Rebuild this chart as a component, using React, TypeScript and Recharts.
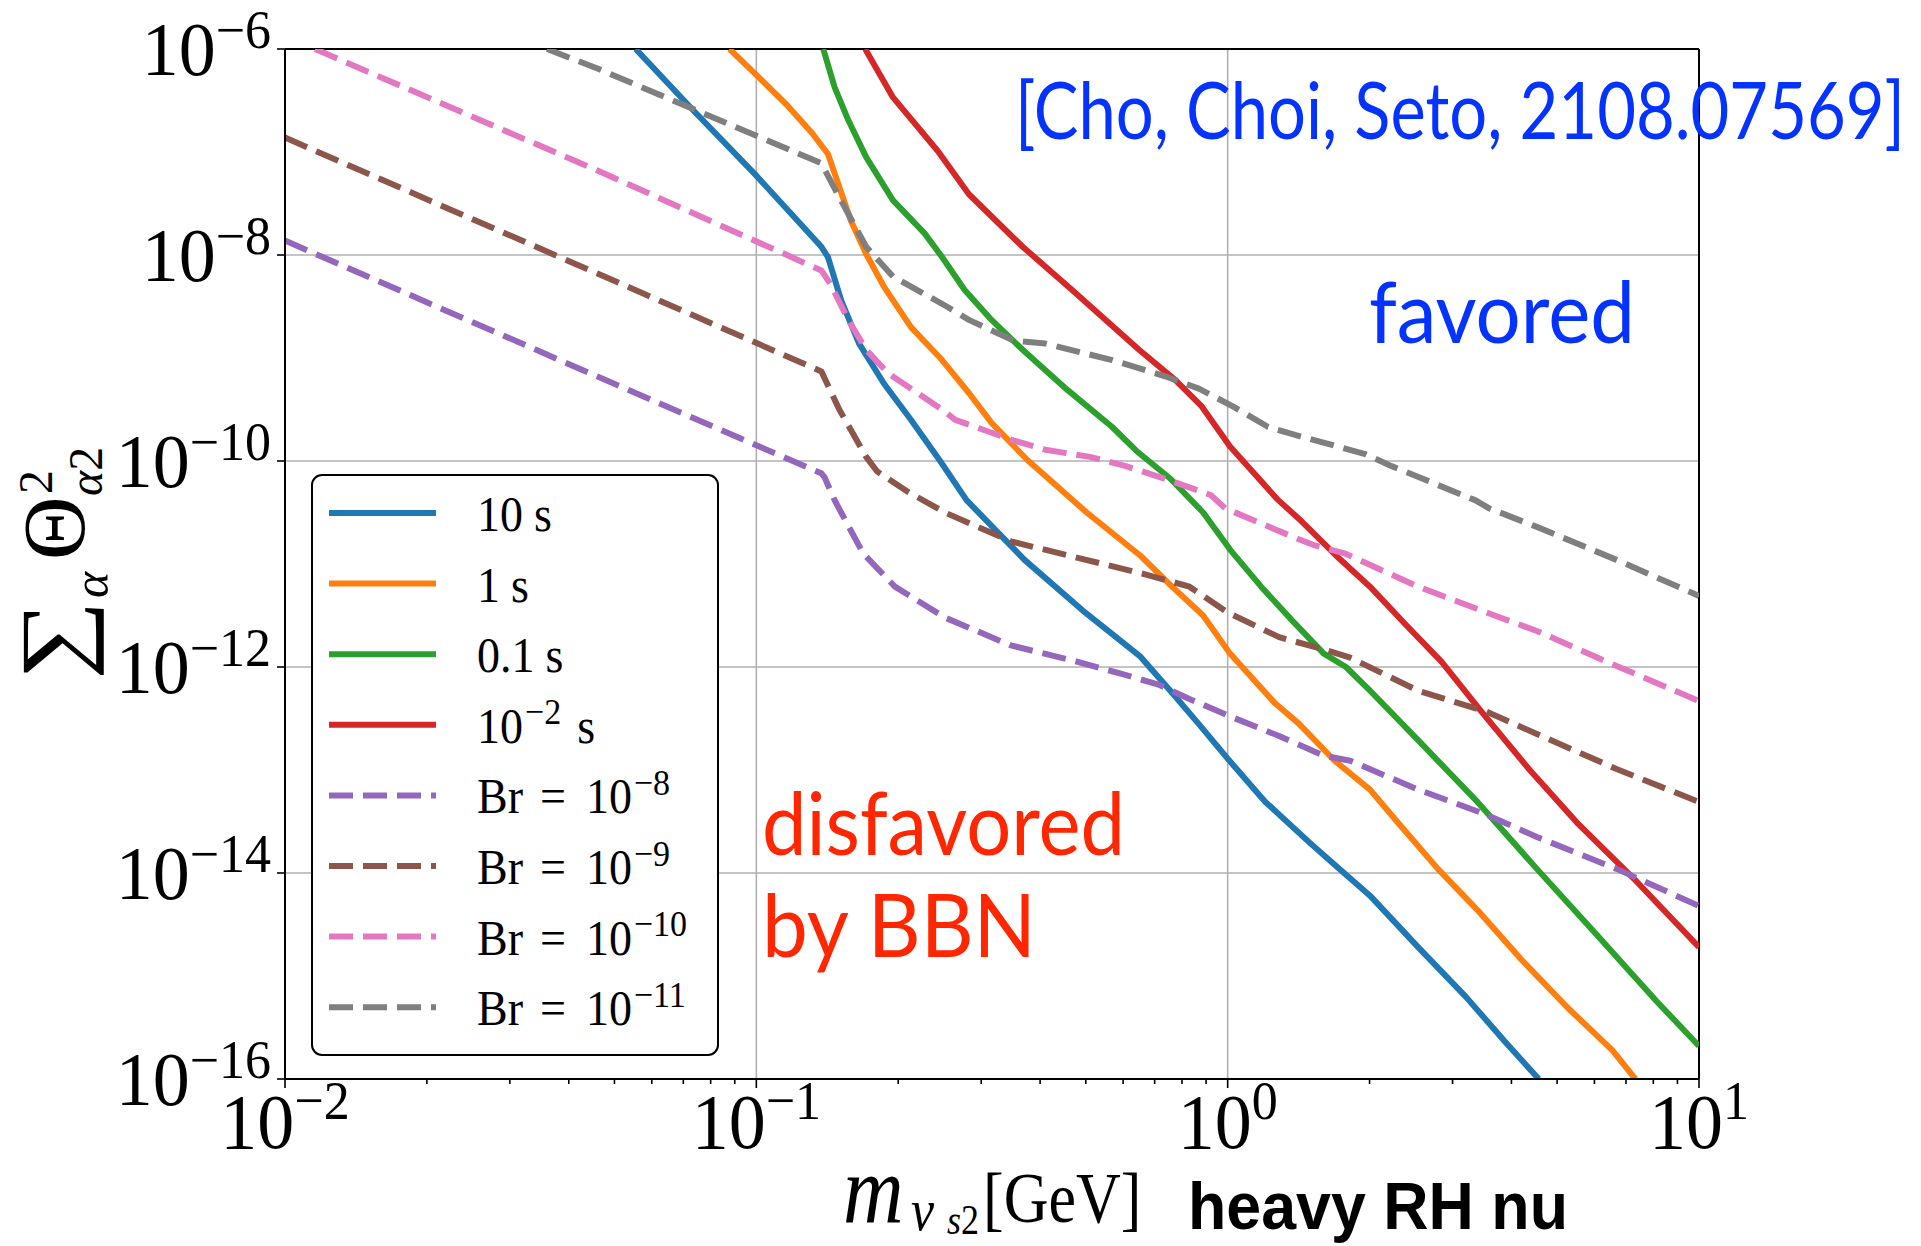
import React from 'react';
import { CartesianGrid, Line, LineChart, ReferenceLine, XAxis, YAxis } from 'recharts';

// values, stored as log10(m / GeV) and log10(sum Theta^2)
const tau10LogM = [-1.256, -1.133, -1.0, -0.862, -0.848, -0.82, -0.782, -0.729, -0.672, -0.61, -0.554, -0.431, -0.308, -0.185, -0.118, -0.062, 0, 0.08, 0.175, 0.227, 0.302, 0.404, 0.505, 0.589, 0.66];
const tau10LogT = [-6.0, -6.6, -7.23, -7.92, -8.02, -8.44, -8.86, -9.25, -9.6, -10.0, -10.38, -10.96, -11.45, -11.9, -12.25, -12.55, -12.89, -13.31, -13.71, -13.92, -14.22, -14.72, -15.2, -15.64, -16.0];

const tau1LogM = [-1.057, -1.005, -0.938, -0.881, -0.848, -0.824, -0.8, -0.767, -0.729, -0.672, -0.606, -0.549, -0.501, -0.425, -0.299, -0.185, -0.118, -0.052, 0.005, 0.1, 0.151, 0.227, 0.302, 0.361, 0.446, 0.53, 0.623, 0.724, 0.816, 0.865];
const tau1LogT = [-6.0, -6.23, -6.53, -6.82, -7.02, -7.34, -7.66, -7.99, -8.31, -8.7, -9.02, -9.34, -9.63, -9.99, -10.5, -10.92, -11.22, -11.5, -11.87, -12.35, -12.55, -12.91, -13.19, -13.51, -13.96, -14.36, -14.84, -15.32, -15.72, -16.0];

const tau01LogM = [-0.858, -0.834, -0.805, -0.767, -0.71, -0.643, -0.606, -0.558, -0.501, -0.435, -0.34, -0.245, -0.194, -0.122, -0.052, 0.005, 0.071, 0.137, 0.204, 0.251, 0.302, 0.404, 0.53, 0.656, 0.783, 0.909, 1.0];
const tau01LogT = [-6.0, -6.37, -6.69, -7.05, -7.47, -7.79, -8.02, -8.34, -8.63, -8.92, -9.31, -9.67, -9.9, -10.17, -10.5, -10.86, -11.22, -11.55, -11.87, -12.0, -12.23, -12.71, -13.31, -13.96, -14.6, -15.24, -15.68];

const tau001LogM = [-0.769, -0.71, -0.615, -0.549, -0.435, -0.33, -0.188, -0.112, -0.055, 0.005, 0.105, 0.151, 0.235, 0.302, 0.378, 0.454, 0.538, 0.639, 0.741, 0.867, 1.0];
const tau001LogT = [-6.0, -6.47, -6.99, -7.41, -7.92, -8.34, -8.92, -9.21, -9.47, -9.86, -10.37, -10.56, -10.94, -11.22, -11.59, -11.95, -12.43, -12.99, -13.51, -14.08, -14.72];

const br8LogM = [-2.0, -1.337, -0.862, -0.855, -0.834, -0.82, -0.773, -0.706, -0.6, -0.46, -0.318, -0.223, -0.147, -0.081, 0, 0.109, 0.204, 0.26, 0.404, 0.547, 0.656, 0.825, 1.0];
const br8LogT = [-7.86, -9.18, -10.12, -10.16, -10.38, -10.5, -10.9, -11.22, -11.52, -11.79, -11.95, -12.07, -12.17, -12.31, -12.47, -12.67, -12.86, -12.91, -13.19, -13.43, -13.65, -13.96, -14.32];

const br9LogM = [-2.0, -1.337, -0.862, -0.824, -0.767, -0.744, -0.678, -0.6, -0.46, -0.318, -0.175, -0.081, 0, 0.109, 0.204, 0.26, 0.404, 0.547, 0.656, 0.825, 1.0];
const br9LogT = [-6.86, -8.18, -9.13, -9.5, -9.96, -10.1, -10.3, -10.5, -10.78, -10.94, -11.1, -11.22, -11.47, -11.71, -11.83, -11.91, -12.23, -12.43, -12.65, -12.99, -13.31];

const br10LogM = [-1.936, -1.337, -0.862, -0.843, -0.805, -0.767, -0.72, -0.606, -0.578, -0.455, -0.387, -0.292, -0.216, -0.128, -0.036, -0.005, 0.151, 0.185, 0.25, 0.404, 0.572, 0.656, 0.825, 1.0];
const br10LogT = [-6.0, -7.18, -8.15, -8.28, -8.63, -8.92, -9.15, -9.5, -9.6, -9.8, -9.89, -9.96, -10.05, -10.18, -10.33, -10.46, -10.76, -10.82, -10.9, -11.22, -11.51, -11.65, -11.99, -12.33];

const br11LogM = [-1.444, -1.337, -0.862, -0.824, -0.767, -0.71, -0.596, -0.549, -0.454, -0.387, -0.245, -0.131, -0.06, 0.011, 0.086, 0.154, 0.29, 0.348, 0.525, 0.555, 0.656, 0.825, 1.0];
const br11LogT = [-6.0, -6.19, -7.11, -7.44, -7.92, -8.21, -8.5, -8.63, -8.83, -8.86, -9.02, -9.18, -9.3, -9.47, -9.67, -9.76, -9.93, -10.05, -10.38, -10.46, -10.64, -10.96, -11.31];

const xMajorTicks = [0.01, 0.1, 1, 10];
const xMinorTicks = [0.02, 0.03, 0.04, 0.05, 0.06, 0.07, 0.08, 0.09, 0.2, 0.3, 0.4, 0.5, 0.6, 0.7, 0.8, 0.9, 2, 3, 4, 5, 6, 7, 8, 9];
const yMajorTicks = [1e-16, 1e-14, 1e-12, 1e-10, 1e-8, 1e-6];

const SERIF = '"Liberation Serif", "DejaVu Serif", serif';
const SANS = 'Lato, "Open Sans", sans-serif';
const BLUE_TXT = '#0433ff';
const RED_TXT = '#ff2600';
const LW = 6;
const DASH = '24 10';

const toPoints = (lm: number[], lt: number[]) =>
  lm.map((v, i) => ({ m: 10 ** v, theta: 10 ** lt[i] }));

// legend text: either a lifetime ("value [exp] s") or a branching ratio ("Br = 10^exp")
type Series = {
  key: string;
  color: string;
  dashed: boolean;
  kind: 'tau' | 'br';
  value: string;
  exp?: string;
  data: { m: number; theta: number }[];
};

const series: Series[] = [
  { key: 't10', color: '#1f77b4', dashed: false, kind: 'tau', value: '10', data: toPoints(tau10LogM, tau10LogT) },
  { key: 't1', color: '#ff7f0e', dashed: false, kind: 'tau', value: '1', data: toPoints(tau1LogM, tau1LogT) },
  { key: 't01', color: '#2ca02c', dashed: false, kind: 'tau', value: '0.1', data: toPoints(tau01LogM, tau01LogT) },
  { key: 't001', color: '#d62728', dashed: false, kind: 'tau', value: '10', exp: '−2', data: toPoints(tau001LogM, tau001LogT) },
  { key: 'b8', color: '#9467bd', dashed: true, kind: 'br', value: '10', exp: '−8', data: toPoints(br8LogM, br8LogT) },
  { key: 'b9', color: '#8c564b', dashed: true, kind: 'br', value: '10', exp: '−9', data: toPoints(br9LogM, br9LogT) },
  { key: 'b10', color: '#e377c2', dashed: true, kind: 'br', value: '10', exp: '−10', data: toPoints(br10LogM, br10LogT) },
  { key: 'b11', color: '#7f7f7f', dashed: true, kind: 'br', value: '10', exp: '−11', data: toPoints(br11LogM, br11LogT) },
];

const expLabel = (v: number) => {
  const e = Math.round(Math.log10(v));
  return e < 0 ? `−${-e}` : `${e}`;
};

function XTick(props: any) {
  const { x, y, payload } = props;
  const lv = Math.log10(payload.value);
  const major = Math.abs(lv - Math.round(lv)) < 1e-6;
  return (
    <g>
      <line x1={x} x2={x} y1={y} y2={y + (major ? 9 : 5)} stroke="#000" strokeWidth={1.6} />
      {major && (
        <text
          transform={`translate(${x},${y + 69}) scale(1,1.06)`}
          textAnchor="middle"
          fontFamily={SERIF}
          fontSize={74}
          fill="#000"
        >
          10
          <tspan fontSize={52} dy={-27}>
            {expLabel(payload.value)}
          </tspan>
        </text>
      )}
    </g>
  );
}

function YTick(props: any) {
  const { x, y, payload } = props;
  return (
    <text
      transform={`translate(${x},${y + 26}) scale(1,1.04)`}
      textAnchor="end"
      fontFamily={SERIF}
      fontSize={74}
      fill="#000"
    >
      10
      <tspan fontSize={52} dy={-26}>
        {expLabel(payload.value)}
      </tspan>
    </text>
  );
}

function LegendLabel({ s, y }: { s: Series; y: number }) {
  if (s.kind === 'tau') {
    return (
      <text transform={`translate(477,${y}) scale(1,1.08)`} fontFamily={SERIF} fontSize={46} fill="#000">
        {s.value}
        {s.exp && (
          <tspan fontSize={34} dy={-17} dx={2}>
            {s.exp}
          </tspan>
        )}
        <tspan dx={s.exp ? 16 : 11} dy={s.exp ? 17 : 0}>
          s
        </tspan>
      </text>
    );
  }
  return (
    <text transform={`translate(477,${y}) scale(1,1.08)`} fontFamily={SERIF} fontSize={46} fill="#000">
      Br
      <tspan dx={17}>=</tspan>
      <tspan dx={20}>{s.value}</tspan>
      <tspan fontSize={34} dy={-17} dx={2}>
        {s.exp}
      </tspan>
    </text>
  );
}

function LegendBox() {
  const left = 312;
  const top = 475;
  const row0 = 513;
  const step = 70.6;
  return (
    <g>
      <rect x={left} y={top} width={406} height={580} rx={10} fill="#fff" stroke="#000" strokeWidth={2} />
      {series.map((s, i) => {
        const cy = row0 + i * step;
        return (
          <g key={s.key}>
            <line
              x1={329}
              x2={436}
              y1={cy}
              y2={cy}
              stroke={s.color}
              strokeWidth={LW}
              strokeDasharray={s.dashed ? DASH : undefined}
            />
            <LegendLabel s={s} y={cy + 18} />
          </g>
        );
      })}
    </g>
  );
}

function Overlay() {
  return (
    <svg width={1921} height={1246} style={{ position: 'absolute', left: 0, top: 0, pointerEvents: 'none' }}>
      <LegendBox />
      {/* y axis label, written bottom to top */}
      <text transform="translate(84,680) rotate(-90) scale(1.22,1)" fontFamily={SERIF} fontSize={92} fill="#000">
        ∑
      </text>
      <text transform="translate(84,678) rotate(-90)" fontFamily={SERIF} fill="#000">
        <tspan x={80} y={24} fontSize={50} fontStyle="italic">α</tspan>
        <tspan x={118} y={0} fontSize={88}>Θ</tspan>
        <tspan x={184} y={-32} fontSize={48}>2</tspan>
        <tspan x={182} y={18} fontSize={48} fontStyle="italic">α</tspan>
        <tspan y={18} fontSize={48}>2</tspan>
      </text>
      {/* x axis label */}
      <g transform="translate(843,1222) scale(1,1.15)">
        <text fontFamily={SERIF} fill="#000">
          <tspan x={0} y={0} fontSize={84} fontStyle="italic">m</tspan>
          <tspan x={68} y={7} fontSize={52} fontStyle="italic">ν</tspan>
          <tspan x={104} y={10} fontSize={36} fontStyle="italic">s</tspan>
          <tspan y={10} fontSize={36}>2</tspan>
          <tspan x={140} y={0} fontSize={62}>[GeV]</tspan>
        </text>
      </g>
      <text
        x={1188}
        y={1229}
        fontFamily='"Liberation Sans", Arial, sans-serif'
        fontWeight="bold"
        fontSize={66}
        fill="#000"
        textLength={380}
        lengthAdjust="spacingAndGlyphs"
      >
        heavy RH nu
      </text>
      {/* annotations */}
      <text x={1015} y={139} fontFamily={SANS} fontSize={80} fill={BLUE_TXT} textLength={890} lengthAdjust="spacingAndGlyphs">
        [Cho, Choi, Seto, 2108.07569]
      </text>
      <text x={1369} y={343} fontFamily={SANS} fontSize={86} fill={BLUE_TXT} textLength={266} lengthAdjust="spacingAndGlyphs">
        favored
      </text>
      <text x={762} y={855} fontFamily={SANS} fontSize={88} fill={RED_TXT} textLength={363} lengthAdjust="spacingAndGlyphs">
        disfavored
      </text>
      <text x={762} y={957} fontFamily={SANS} fontSize={88} fill={RED_TXT} textLength={274} lengthAdjust="spacingAndGlyphs">
        by BBN
      </text>
    </svg>
  );
}

export default function App() {
  return (
    <div style={{ position: 'absolute', left: 0, top: 0, width: 1921, height: 1246, background: '#fff' }}>
      <LineChart width={1921} height={1246} margin={{ top: 49, right: 222, bottom: 0, left: 0 }}>
        <CartesianGrid
          stroke="#b0b0b0"
          strokeWidth={1.6}
          verticalValues={xMajorTicks}
          horizontalValues={yMajorTicks}
        />
        <XAxis
          dataKey="m"
          type="number"
          scale="log"
          domain={[0.01, 10]}
          ticks={[...xMajorTicks, ...xMinorTicks]}
          interval={0}
          allowDataOverflow
          height={167}
          tickSize={0}
          tickMargin={0}
          tickLine={false}
          axisLine={{ stroke: '#000', strokeWidth: 2 }}
          tick={<XTick />}
        />
        <YAxis
          dataKey="theta"
          type="number"
          scale="log"
          domain={[1e-16, 1e-6]}
          ticks={yMajorTicks}
          interval={0}
          allowDataOverflow
          width={285}
          tickSize={8}
          tickMargin={6}
          tickLine={{ stroke: '#000', strokeWidth: 1.6 }}
          axisLine={{ stroke: '#000', strokeWidth: 2 }}
          tick={<YTick />}
        />
        <ReferenceLine y={1e-6} stroke="#000" strokeWidth={2} />
        <ReferenceLine x={10} stroke="#000" strokeWidth={2} />
        {series.map((s) => (
          <Line
            key={s.key}
            data={s.data}
            dataKey="theta"
            type="linear"
            stroke={s.color}
            strokeWidth={LW}
            strokeDasharray={s.dashed ? DASH : undefined}
            strokeLinejoin="round"
            dot={false}
            activeDot={false}
            isAnimationActive={false}
          />
        ))}
      </LineChart>
      <Overlay />
    </div>
  );
}
